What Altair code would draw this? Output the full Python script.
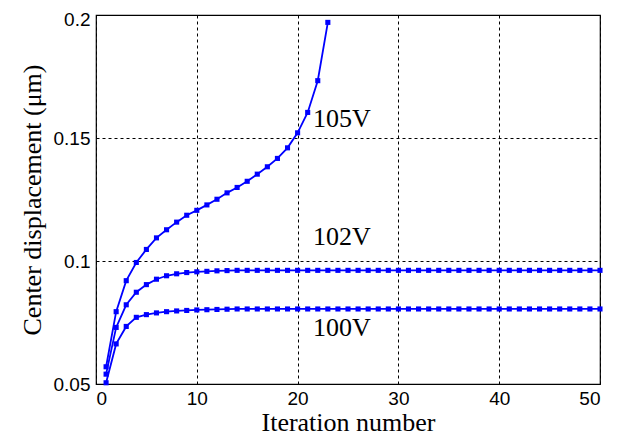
import altair as alt
import pandas as pd

iters_105 = list(range(1, 24))
vals_105 = [0.057, 0.0794, 0.092, 0.0994, 0.1047, 0.1094, 0.1127, 0.1158, 0.1186, 0.1206,
            0.1228, 0.1251, 0.1277, 0.1299, 0.1324, 0.1353, 0.1383, 0.1417, 0.146, 0.1521,
            0.1604, 0.1733, 0.197]

iters_long = list(range(1, 51))
vals_102_head = [0.054, 0.073, 0.0822, 0.0873, 0.0904, 0.0926, 0.094, 0.0948, 0.0953, 0.0956,
                 0.0958, 0.096, 0.0961]
vals_102 = vals_102_head + [0.0962] * (50 - len(vals_102_head))
vals_100_head = [0.0505, 0.0663, 0.0734, 0.0771, 0.0782, 0.0789, 0.0794, 0.0797, 0.0799, 0.0801,
                 0.0802, 0.0803, 0.0804]
vals_100 = vals_100_head + [0.0805] * (50 - len(vals_100_head))

label_text = ["105V", "102V", "100V"]
label_x = [24.4, 24.4, 24.4]
label_y = [0.1577, 0.1096, 0.0729]

rows = []
for s, xs_, ys_ in [("105V", iters_105, vals_105), ("102V", iters_long, vals_102), ("100V", iters_long, vals_100)]:
    for a, b in zip(xs_, ys_):
        rows.append({"series": s, "iter": a, "disp": b})
df = pd.DataFrame(rows)
lab = pd.DataFrame({"t": label_text, "x": label_x, "y": label_y})

xs = alt.Scale(domain=[0, 50], nice=False)
ys = alt.Scale(domain=[0.05, 0.2], nice=False)

xaxis = alt.Axis(values=[0, 10, 20, 30, 40, 50], title="Iteration number",
                 labelPadding=5, titlePadding=1)
yaxis = alt.Axis(values=[0.05, 0.1, 0.15, 0.2], format="~g", title="Center displacement (μm)",
                 labelPadding=6, titlePadding=8,
                 labelOffset={"condition": {"test": "datum.value >= 0.2", "value": 4}, "value": 0})

lines = alt.Chart(df).mark_line(color="#0000FF", strokeWidth=1.8,
                                point=alt.OverlayMarkDef(shape="square", size=26, filled=True, color="#0000FF")).encode(
    x=alt.X("iter:Q", scale=xs, axis=xaxis),
    y=alt.Y("disp:Q", scale=ys, axis=yaxis),
    detail="series:N",
)

texts = alt.Chart(lab).mark_text(font="Liberation Serif", fontSize=26, color="black").encode(
    x=alt.X("x:Q", scale=xs, axis=xaxis),
    y=alt.Y("y:Q", scale=ys, axis=yaxis),
    text="t:N",
)

chart = (lines + texts).properties(
    width=504, height=369,
    autosize=alt.AutoSizeParams(type="none"),
    padding={"left": 88, "top": 7, "right": 10, "bottom": 60},
).configure(
    background="white",
    view=alt.ViewConfig(stroke="black", strokeWidth=1.2),
    axis=alt.AxisConfig(
        labelFont="Liberation Sans", labelFontSize=19, labelColor="black",
        titleFont="Liberation Serif", titleFontSize=26, titleFontWeight="normal", titleColor="black",
        grid=True, gridDash=[3, 3], gridColor="black", gridOpacity=1, gridWidth=1,
        domain=False, ticks=False,
    ),
)

chart.save("out.html", embed_options={"renderer": "svg", "actions": False})
